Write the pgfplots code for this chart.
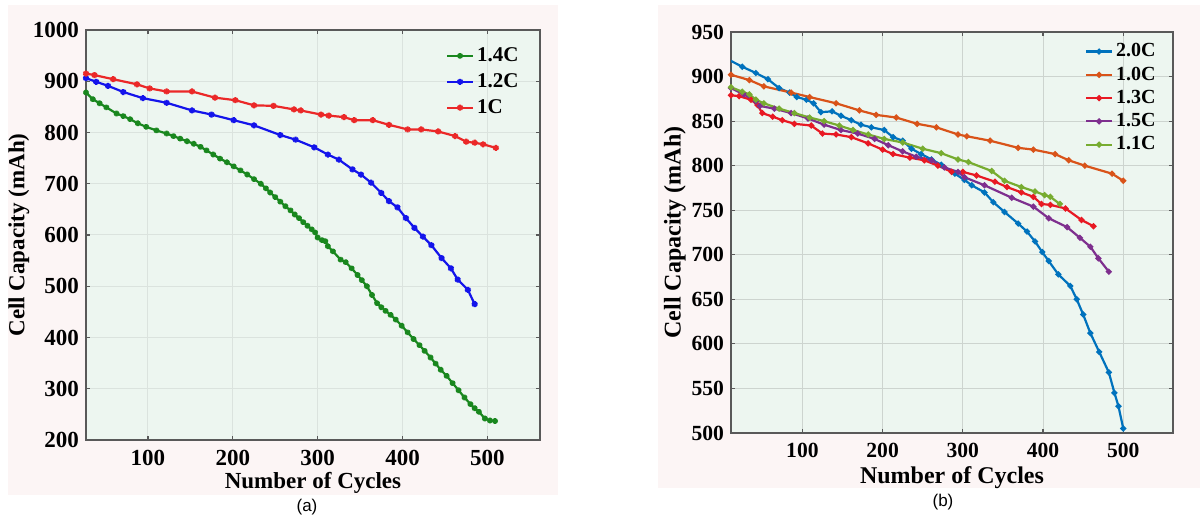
\documentclass[border=0pt]{standalone}
\usepackage{fontspec}
\setmainfont{Liberation Serif}
\newfontfamily\arialfont{Liberation Sans}
\usepackage{pgfplots}
\pgfplotsset{compat=1.18}

\definecolor{pinkbg}{RGB}{252,245,245}
\definecolor{axbg}{RGB}{237,246,240}
\definecolor{gridc}{RGB}{205,212,207}
\definecolor{cgreen}{RGB}{25,135,30}
\definecolor{cblue}{RGB}{20,20,235}
\definecolor{cred}{RGB}{235,40,40}
\definecolor{m2}{RGB}{0,114,189}
\definecolor{m1}{RGB}{217,83,25}
\definecolor{m3}{RGB}{232,25,35}
\definecolor{m5}{RGB}{126,47,142}
\definecolor{m11}{RGB}{119,172,48}

\pgfplotsset{
  matfig/.style={
    scale only axis,
    axis background/.style={fill=axbg},
    grid=major,
    grid style={gridc, line width=0.5pt},
    axis line style={black!65, line width=0.6pt},
    tick style={black!65, line width=0.6pt},
    tick align=inside,
    major tick length=2.2pt,
    /pgf/number format/assume math mode=true,
    /pgf/number format/set thousands separator={},
    xticklabel style={yshift=-1.5pt},
    label style={font=\bfseries\fontsize{11.5}{13}\selectfont},
    legend cell align=left,
    legend image code/.code={\draw[mark repeat=2,mark phase=2] plot coordinates {(0pt,0pt)(6.5pt,0pt)(13pt,0pt)};},
  },
}

\begin{document}
\begin{tikzpicture}
\path[use as bounding box] (0,0) rectangle (600pt,258.5pt);
\fill[pinkbg] (4pt,11pt) rectangle (279pt,256pt);
\fill[pinkbg] (329pt,14.5pt) rectangle (600pt,256pt);

% (a)
\begin{axis}[matfig,
  at={(43pt,38.5pt)}, anchor=south west,
  width=227pt, height=205pt,
  xmin=27, xmax=562, ymin=200, ymax=1000,
  xtick={100,200,300,400,500},
  ytick={200,300,400,500,600,700,800,900,1000},
  grid style={gridc!55!axbg, line width=0.5pt},
  ticklabel style={font=\bfseries\fontsize{11.5}{13}\selectfont},
  xlabel={Number of Cycles},
  ylabel={Cell Capacity (mAh)},
  xlabel style={at={(axis description cs:0.5,-0.105)}, anchor=center},
  ylabel style={at={(axis description cs:-0.148,0.5)}, anchor=center},
  legend style={at={(rel axis cs:1,1)}, anchor=north east, xshift=-8pt, yshift=-6pt,
    draw=none, fill=none, inner sep=1pt, row sep=1.5pt,
    nodes={inner sep=1.5pt},
    font=\bfseries\fontsize{10.5}{11}\selectfont},
]
\addplot[cgreen, line width=1.1pt, mark=asterisk, mark size=1.4pt] coordinates {
(27,878)(35,865)(43,857)(51,849)(63,837)(71,832)(79,826)(88,818)(98,811)(110,804)
(122,798)(130,793)(138,788)(146,783)(154,778)(162,772)(169,765)(177,757)(185,749)(193,742)
(201,734)(209,726)(217,718)(225,709)(233,700)(239,691)(244,683)(250,674)(256,665)(262,656)
(268,648)(273,640)(278,633)(283,625)(288,618)(293,611)(297,605)(300,595)(305,590)(309,588)
(312,578)(318,568)(327,552)(333,547)(340,535)(347,522)(352,512)(358,500)(364,483)(370,467)
(375,459)(380,452)(386,444)(392,435)(399,423)(406,410)(413,397)(420,385)(426,374)(433,361)
(439,349)(445,337)(452,325)(459,311)(466,297)(473,283)(480,270)(485,262)(490,255)(497,242)
(503,238)(509,237)};
\addlegendentry{1.4C}
\addplot[cblue, line width=1.1pt, mark=asterisk, mark size=1.5pt] coordinates {
(27,906)(39,899)(53,891)(71,879)(94,867)(122,858)(152,843)(175,835)(201,824)(225,814)
(256,795)(274,786)(296,771)(312,757)(325,747)(341,728)(351,718)(363,702)(375,682)(384,666)
(394,654)(404,633)(414,614)(424,597)(434,580)(446,555)(457,535)(465,513)(477,493)(485,465)};
\addlegendentry{1.2C}
\addplot[cred, line width=1.1pt, mark=asterisk, mark size=1.5pt] coordinates {
(27,915)(37,912)(59,904)(87,894)(102,886)(122,880)(152,880)(179,868)(203,863)(225,853)
(248,852)(272,845)(280,843)(304,835)(313,833)(331,830)(343,824)(365,824)(384,815)(406,806)
(422,806)(442,802)(462,793)(475,782)(485,780)(495,777)(510,770)};
\addlegendentry{1C}
\end{axis}

% (b)
\begin{axis}[matfig,
  at={(365.5pt,42pt)}, anchor=south west,
  width=221pt, height=200.5pt,
  xmin=11, xmax=562, ymin=500, ymax=950,
  xtick={100,200,300,400,500},
  ytick={500,550,600,650,700,750,800,850,900,950},
  ticklabel style={font=\bfseries\fontsize{10.8}{12}\selectfont},
  label style={font=\bfseries\fontsize{12}{14}\selectfont},
  xlabel={Number of Cycles},
  ylabel={Cell Capacity (mAh)},
  xlabel style={at={(axis description cs:0.5,-0.112)}, anchor=center},
  ylabel style={at={(axis description cs:-0.127,0.5)}, anchor=center},
  legend style={at={(rel axis cs:1,1)}, anchor=north east, xshift=-6pt, yshift=-3pt,
    draw=none, fill=none, inner sep=1pt, row sep=0.5pt,
    nodes={inner sep=1.5pt},
    font=\bfseries\fontsize{10}{11}\selectfont},
]
\addplot[m2, line width=1.1pt, mark=*, mark size=0.9pt] coordinates {
(10,918)(25,911)(42,904)(57,897)(71,887)(84,882)(93,877)(105,874)(114,870)(123,860)
(137,861)(148,856)(161,851)(173,846)(186,843)(202,840)(213,832)(225,828)(236,819)(248,813)
(261,807)(273,801)(290,791)(302,784)(311,778)(327,770)(338,759)(352,748)(369,735)(380,726)
(390,715)(399,703)(407,693)(419,678)(434,665)(442,650)(450,633)(459,612)(470,591)(482,568)
(489,545)(494,530)(500,505)};
\addlegendentry{2.0C}
\addplot[m1, line width=1.1pt, mark=*, mark size=0.9pt] coordinates {
(11,902)(34,896)(52,889)(86,882)(109,877)(142,870)(171,862)(192,857)(217,854)(243,847)
(267,843)(294,835)(305,833)(334,828)(369,820)(388,818)(415,813)(432,806)(452,800)(486,791)
(500,783)};
\addlegendentry{1.0C}
\addplot[m3, line width=1.1pt, mark=*, mark size=0.9pt] coordinates {
(11,879)(21,878)(36,874)(44,868)(50,859)(63,855)(75,851)(90,847)(111,845)(125,836)
(142,835)(161,832)(182,825)(200,818)(213,813)(234,809)(252,806)(269,800)(286,793)(300,793)
(317,789)(340,782)(355,776)(373,770)(388,765)(398,757)(409,756)(428,752)(448,739)(463,732)};
\addlegendentry{1.3C}
\addplot[m5, line width=1.1pt, mark=*, mark size=0.9pt] coordinates {
(11,887)(27,880)(42,872)(47,867)(65,864)(86,859)(107,853)(127,846)(148,840)(169,836)
(190,830)(207,823)(225,816)(242,810)(261,806)(277,798)(294,793)(302,787)(327,778)(361,764)
(388,754)(407,741)(430,731)(446,719)(459,709)(469,696)(482,681)};
\addlegendentry{1.5C}
\addplot[m11, line width=1.1pt, mark=*, mark size=0.9pt] coordinates {
(11,888)(25,883)(34,880)(42,874)(52,870)(71,864)(90,859)(109,854)(127,850)(146,845)
(163,840)(182,835)(202,830)(225,826)(250,819)(273,814)(294,807)(307,804)(336,794)(352,783)
(373,776)(390,771)(402,767)(409,765)(421,757)};
\addlegendentry{1.1C}
\end{axis}

\node[font=\arialfont\fontsize{8.5}{10}\selectfont] at (153.5pt,5pt) {(a)};
\node[font=\arialfont\fontsize{8.5}{10}\selectfont] at (471.5pt,7.5pt) {(b)};
\end{tikzpicture}
\end{document}
